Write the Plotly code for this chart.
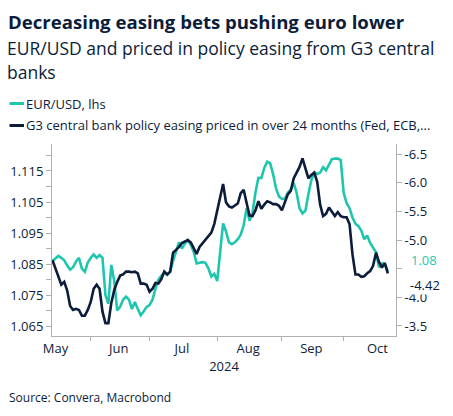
import pandas as pd
import plotly.graph_objects as go

# business days, mid May to 22 Oct 2024
dates = pd.bdate_range("2024-05-15", "2024-10-22")

# EUR/USD, lhs
eurusd = [
    1.0860, 1.0868, 1.0876, 1.0870, 1.0862, 1.0845, 1.0832, 1.0840, 1.0858, 1.0870,
    1.0835, 1.0825, 1.0855, 1.0870, 1.0881, 1.0870, 1.0879, 1.0870, 1.0750, 1.0722,
    1.0847, 1.0795, 1.0700, 1.0712, 1.0735, 1.0745, 1.0735, 1.0705, 1.0728, 1.0705,
    1.0685, 1.0697, 1.0712, 1.0718, 1.0735, 1.0770, 1.0800, 1.0812, 1.0822, 1.0815,
    1.0825, 1.0860, 1.0892, 1.0920, 1.0900, 1.0916, 1.0927, 1.0912, 1.0890, 1.0852,
    1.0854, 1.0856, 1.0854, 1.0836, 1.0810, 1.0818, 1.0795, 1.0900, 1.0981, 1.0955,
    1.0920, 1.0914, 1.0920, 1.0930, 1.0945, 1.0975, 1.1030, 1.0990, 1.1015, 1.1080,
    1.1128, 1.1127, 1.1160, 1.1180, 1.1175, 1.1140, 1.1094, 1.1068, 1.1060, 1.1060,
    1.1080, 1.1090, 1.1112, 1.1080, 1.1030, 1.1013, 1.1022, 1.1075, 1.1120, 1.1145,
    1.1140, 1.1145, 1.1162, 1.1152, 1.1170, 1.1188, 1.1190, 1.1190, 1.1185, 1.1080,
    1.1046, 1.1030, 1.1000, 1.0980, 1.0972, 1.0958, 1.0930, 1.0942, 1.0918, 1.0905,
    1.0888, 1.0840, 1.0852, 1.0850, 1.0826,
]

# G3 policy easing priced in over 24 months, rhs (inverted)
easing = [
    -4.65, -4.50, -4.36, -4.22, -4.27, -4.12, -3.85, -3.78, -3.80, -3.78,
    -3.68, -3.68, -3.78, -3.92, -4.15, -4.22, -4.15, -3.75, -3.55, -3.55,
    -3.90, -4.13, -4.27, -4.38, -4.40, -4.45, -4.45, -4.44, -4.45, -4.42,
    -4.24, -4.24, -4.22, -4.10, -4.15, -4.25, -4.24, -4.32, -4.45, -4.40,
    -4.45, -4.78, -4.83, -4.88, -4.95, -4.97, -5.00, -4.96, -4.85, -4.76,
    -4.88, -4.94, -5.00, -5.07, -5.13, -5.28, -5.50, -5.76, -5.98, -5.66,
    -5.59, -5.57, -5.60, -5.64, -5.82, -5.88, -5.65, -5.43, -5.42, -5.52,
    -5.68, -5.55, -5.62, -5.68, -5.66, -5.63, -5.63, -5.60, -5.52, -5.65,
    -5.80, -5.86, -6.08, -6.18, -6.28, -6.43, -6.25, -6.08, -6.14, -6.18,
    -6.02, -5.62, -5.42, -5.46, -5.57, -5.50, -5.42, -5.49, -5.42, -5.40,
    -5.40, -5.28, -4.75, -4.40, -4.40, -4.36, -4.37, -4.42, -4.46, -4.55,
    -4.78, -4.62, -4.52, -4.60, -4.42,
]

# month boundaries (first business day) and label positions (mid month)
month_starts = ["2024-06-03", "2024-07-01", "2024-08-01", "2024-09-02", "2024-10-01"]
month_mids = ["2024-05-16", "2024-06-14 12:00", "2024-07-16", "2024-08-15 12:00",
              "2024-09-16", "2024-10-16 12:00"]
month_labels = ["May", "Jun", "Jul", "Aug", "Sep", "Oct"]

left_ticks = [1.065, 1.075, 1.085, 1.095, 1.105, 1.115]
right_ticks = [-6.5, -6.0, -5.5, -5.0, -4.5, -4.0, -3.5]
right_text = ["-6.5", "-6.0", "-5.5", "-5.0", "", "-4.0", "-3.5"]

name1 = "EUR/USD, lhs"
name2 = "G3 central bank policy easing priced in over 24 months (Fed, ECB,..."

TEAL = "#1fc6ae"
NAVY = "#0b1d3a"
GREY = "#b0b0b0"
FONT = "Open Sans"

fig = go.Figure()
fig.add_trace(go.Scatter(x=dates, y=eurusd, name=name1, mode="lines",
                         line=dict(color=TEAL, width=2.6), yaxis="y"))
fig.add_trace(go.Scatter(x=dates, y=easing, name=name2, mode="lines",
                         line=dict(color=NAVY, width=2.6), yaxis="y2"))

fig.update_layout(
    width=445, height=408,
    margin=dict(l=44, r=57, t=136, b=80),
    paper_bgcolor="white", plot_bgcolor="white",
    showlegend=False,
    font=dict(family=FONT, color=NAVY, size=13),
    title=dict(text="<b>Decreasing easing bets pushing euro lower</b>",
               xref="container", x=0, xanchor="left",
               yref="container", y=1 - 14 / 408, yanchor="middle",
               font=dict(size=18.6, color=NAVY, family=FONT)),
    xaxis=dict(
        type="date", automargin=False,
        range=["2024-05-14 20:00", "2024-10-24 19:00"],
        rangebreaks=[dict(bounds=["sat", "mon"])],
        tickvals=month_mids, ticktext=month_labels, ticks="",
        minor=dict(tickvals=month_starts, ticks="outside", ticklen=4, tickcolor=GREY),
        showline=True, linecolor=GREY, linewidth=1,
        showgrid=False, zeroline=False,
        tickfont=dict(size=13, color=NAVY),
        title=dict(text="2024", font=dict(size=13, color=NAVY), standoff=4),
    ),
    yaxis=dict(
        automargin=False,
        range=[1.0618, 1.1237],
        tickvals=left_ticks, tickformat=".3f",
        ticks="outside", ticklen=5, tickcolor=GREY,
        minor=dict(dtick=0.005, tick0=1.065, ticks="outside", ticklen=5, tickcolor=GREY),
        showline=True, linecolor=GREY, linewidth=1,
        showgrid=False, zeroline=False,
        tickfont=dict(size=13, color=NAVY),
    ),
    yaxis2=dict(
        automargin=False,
        overlaying="y", side="right",
        range=[-3.325, -6.68],
        tickvals=right_ticks, ticktext=right_text,
        ticks="outside", ticklen=5, tickcolor=GREY,
        showline=True, linecolor=GREY, linewidth=1,
        showgrid=False, zeroline=False,
        tickfont=dict(size=13, color=NAVY),
    ),
)


# positions below are screen pixels, turned into paper coords (plot area 52..396, 144..336)
def px_x(p):
    return (p - 52) / 344


def px_y(p):
    return (336 - p) / 192


# subtitle, legend, end labels, source
notes = [
    ("EUR/USD and priced in policy easing from G3 central", 6, 48, 17.5, NAVY, None),
    ("banks", 6, 72, 17.5, NAVY, None),
    (name1, 25, 103.5, 13, NAVY, None),
    (name2, 25, 125.5, 13, NAVY, None),
    ("Source: Convera, Macrobond", 8, 397, 12, NAVY, None),
    (f"{eurusd[-1]:.2f}", 410, 260, 13, TEAL, "white"),
    (f"{easing[-1]:.2f}", 409, 285, 13, NAVY, "white"),
]
for txt, x, y, size, col, bg in notes:
    fig.add_annotation(text=txt, xref="paper", yref="paper", x=px_x(x), y=px_y(y),
                       xanchor="left", yanchor="middle", showarrow=False,
                       bgcolor=bg, borderpad=0,
                       font=dict(size=size, color=col, family=FONT))

for col, y in [(TEAL, 103.5), (NAVY, 125.5)]:
    fig.add_shape(type="line", xref="paper", yref="paper",
                  x0=px_x(9.5), x1=px_x(24), y0=px_y(y), y1=px_y(y),
                  line=dict(color=col, width=3))

fig.write_html("out.html")
